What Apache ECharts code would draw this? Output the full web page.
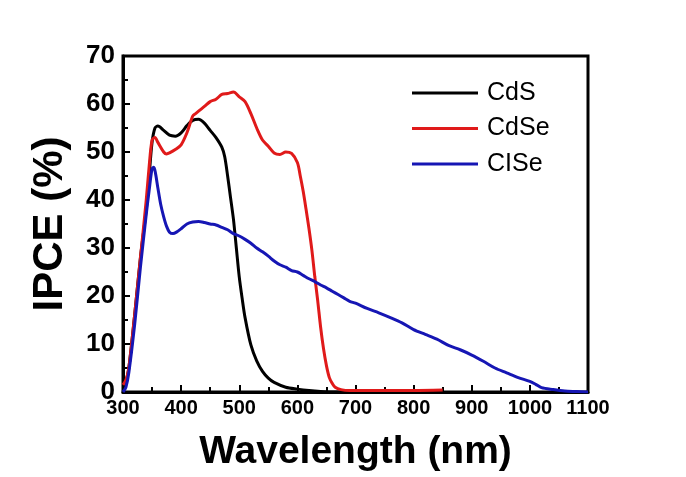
<!DOCTYPE html>
<html>
<head>
<meta charset="utf-8">
<script src="https://cdn.jsdelivr.net/npm/echarts@6/dist/echarts.min.js"></script>
<style>html,body{margin:0;padding:0;background:#fff}#c{width:686px;height:477px}</style>
</head>
<body>
<div id="c"></div>
<script>
var xTicks = [300, 400, 500, 600, 700, 800, 900, 1000, 1100];
var yTicks = [0, 10, 20, 30, 40, 50, 60, 70];
var seriesNames = ['CdS', 'CdSe', 'CISe'];

var cdsX = [300,305,310,320,330,340,345,350,355,360,370,380,390,400,410,420,430,440,450,460,470,475,480,485,490,495,500,505,510,520,530,540,550,560,580,600,620,640,660,700,800,850];
var cdsY = [0,2,5,16,28,38,45,52,55,55.4,54.5,53.5,53.3,54,55.5,56.6,56.8,56,54.5,53,51,49,45,40.5,36,30,24,19.5,15.5,9.8,6.5,4.3,2.9,2.0,1.0,0.6,0.3,0.1,0,0,0,0];

var cdseX = [300,305,310,320,330,340,345,350,355,360,370,375,380,390,400,410,420,425,430,440,450,460,470,480,490,500,510,520,530,540,550,560,570,580,590,600,605,610,615,620,625,630,635,640,645,650,655,660,665,675,690,750,800,850];
var cdseY = [1.5,2.5,5,16,28,40,47,52.5,53,52,50,49.6,49.8,50.5,51.5,54,57.5,58,58.5,59.5,60.5,61,62,62.2,62.5,61.5,60.5,58,55,52.5,51.2,49.8,49.5,50,49.7,47.8,45,41.8,38,34,29.5,24,19,13.5,9,5.5,3,1.8,1,0.5,0.3,0.3,0.3,0.4];

var ciseX = [300,305,310,320,330,340,345,350,353,356,360,365,370,375,380,386,392,400,410,420,430,440,450,460,470,480,490,500,510,520,530,540,550,560,570,580,590,600,610,620,630,640,650,660,670,680,690,700,720,740,760,780,800,820,840,860,880,900,920,940,960,980,1000,1010,1020,1040,1060,1080,1100];
var ciseY = [0,1,4,14,26,37,42,46.5,46.8,45.5,42.5,39,36.5,34.5,33.3,33,33.3,34,35,35.4,35.5,35.3,35,34.8,34.3,33.8,33,32.5,31.8,31,30,29.2,28.3,27.3,26.5,26,25.3,25,24.3,23.6,23,22.3,21.7,21,20.3,19.6,18.9,18.5,17.4,16.5,15.5,14.4,13,12,11,9.7,8.8,7.7,6.4,5,4,3,2.2,1.6,0.9,0.5,0.2,0.1,0];

var colors = ['#000000', '#e01a1a', '#1616b4'];

function pairs(xs, ys) { return xs.map(function (x, i) { return [x, ys[i]]; }); }

var font = '"Liberation Sans", Arial, sans-serif';
var chart = echarts.init(document.getElementById('c'));
chart.setOption({
  animation: false,
  backgroundColor: '#fff',
  grid: { left: 123, right: 98, top: 56, bottom: 82, show: true, borderColor: '#000', borderWidth: 3 },
  legend: {
    orient: 'vertical', left: 412, top: 80, padding: 0, itemWidth: 66, itemHeight: 3, itemGap: 9.5, icon: 'rect',
    data: seriesNames,
    textStyle: { fontFamily: font, fontSize: 25, color: '#000', lineHeight: 26, padding: [0, 0, 0, 4] }
  },
  xAxis: {
    type: 'value', min: xTicks[0], max: xTicks[xTicks.length - 1], interval: 100,
    name: 'Wavelength (nm)', nameLocation: 'middle', nameGap: 41,
    nameTextStyle: { fontFamily: font, fontSize: 39, fontWeight: 'bold', color: '#000' },
    axisLine: { lineStyle: { color: '#000', width: 3 } },
    axisTick: { inside: true, length: 7, lineStyle: { width: 2, color: '#000' } },
    minorTick: { show: true, splitNumber: 2, length: 5, lineStyle: { width: 2, color: '#000' } },
    splitLine: { show: false },
    axisLabel: { margin: 6, fontFamily: font, fontSize: 20, fontWeight: 'bold', color: '#000', formatter: function (v) { return String(v); } }
  },
  yAxis: {
    type: 'value', min: yTicks[0], max: yTicks[yTicks.length - 1], interval: 10,
    name: 'IPCE (%)', nameLocation: 'middle', nameGap: 52,
    nameTextStyle: { fontFamily: font, fontSize: 42, fontWeight: 'bold', color: '#000' },
    axisLine: { lineStyle: { color: '#000', width: 3 } },
    axisTick: { inside: true, length: 7, lineStyle: { width: 2, color: '#000' } },
    minorTick: { show: true, splitNumber: 2, length: 5, lineStyle: { width: 2, color: '#000' } },
    splitLine: { show: false },
    axisLabel: { margin: 8, fontFamily: font, fontSize: 26, fontWeight: 'bold', color: '#000', formatter: function (v) { return String(v); } }
  },
  series: [
    { name: seriesNames[0], type: 'line', data: pairs(cdsX, cdsY), smooth: 0.3, showSymbol: false, lineStyle: { width: 3, color: colors[0] }, itemStyle: { color: colors[0] } },
    { name: seriesNames[1], type: 'line', data: pairs(cdseX, cdseY), smooth: 0.3, showSymbol: false, lineStyle: { width: 3, color: colors[1] }, itemStyle: { color: colors[1] } },
    { name: seriesNames[2], type: 'line', data: pairs(ciseX, ciseY), smooth: 0.3, showSymbol: false, lineStyle: { width: 3, color: colors[2] }, itemStyle: { color: colors[2] } }
  ]
});
</script>
</body>
</html>
